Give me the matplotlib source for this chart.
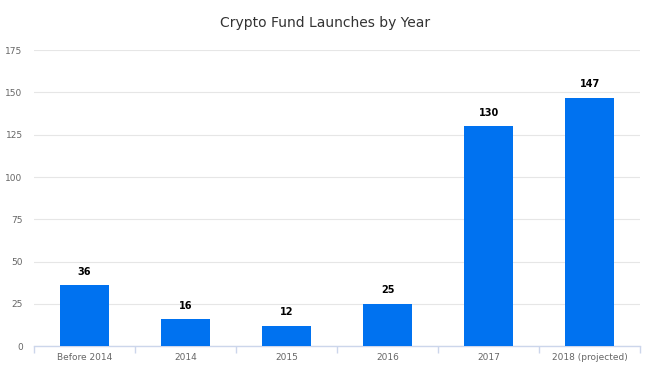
import matplotlib
matplotlib.use("Agg")
from matplotlib import pyplot as plt
import numpy as np

categories = ["Before 2014", "2014", "2015", "2016", "2017", "2018 (projected)"]
launches = [36, 16, 12, 25, 130, 147]
y_ticks = [0, 25, 50, 75, 100, 125, 150, 175]

plt.rcParams['font.family'] = ['DejaVu Sans']

fig = plt.figure(figsize=(6.5, 3.69), dpi=100)
ax = fig.add_axes([0.052, 0.062, 0.933, 0.802])

x = np.arange(len(categories))
bars = ax.bar(x, launches, width=0.48, color="#0072f0", zorder=3)

# value labels above each bar
for rect, val in zip(bars, launches):
    ax.text(rect.get_x() + rect.get_width() / 2, val + 5, str(val),
            ha="center", va="bottom", fontsize=7, fontweight="bold", color="#000000")

ax.set_xlim(-0.5, len(categories) - 0.5)
ax.set_ylim(0, 175)
ax.set_yticks(y_ticks)
ax.set_xticks(x)
ax.set_xticklabels(categories)
ax.set_xticks(np.arange(-0.5, len(categories)), minor=True)

ax.grid(axis="y", color="#e6e6e6", linewidth=0.8, zorder=0)
for side in ["top", "right", "left"]:
    ax.spines[side].set_visible(False)
ax.spines["bottom"].set_color("#ccd6eb")
ax.spines["bottom"].set_linewidth(1)

ax.tick_params(axis="y", length=0, labelsize=6.5, labelcolor="#666666", pad=8)
ax.tick_params(axis="x", which="major", length=0, labelsize=6.5, labelcolor="#666666", pad=5)
ax.tick_params(axis="x", which="minor", length=5, color="#ccd6eb", width=1)

fig.text(0.5, 0.938, "Crypto Fund Launches by Year", ha="center", va="center",
         fontsize=10, color="#333333")

fig.savefig("out.png", dpi=100)
